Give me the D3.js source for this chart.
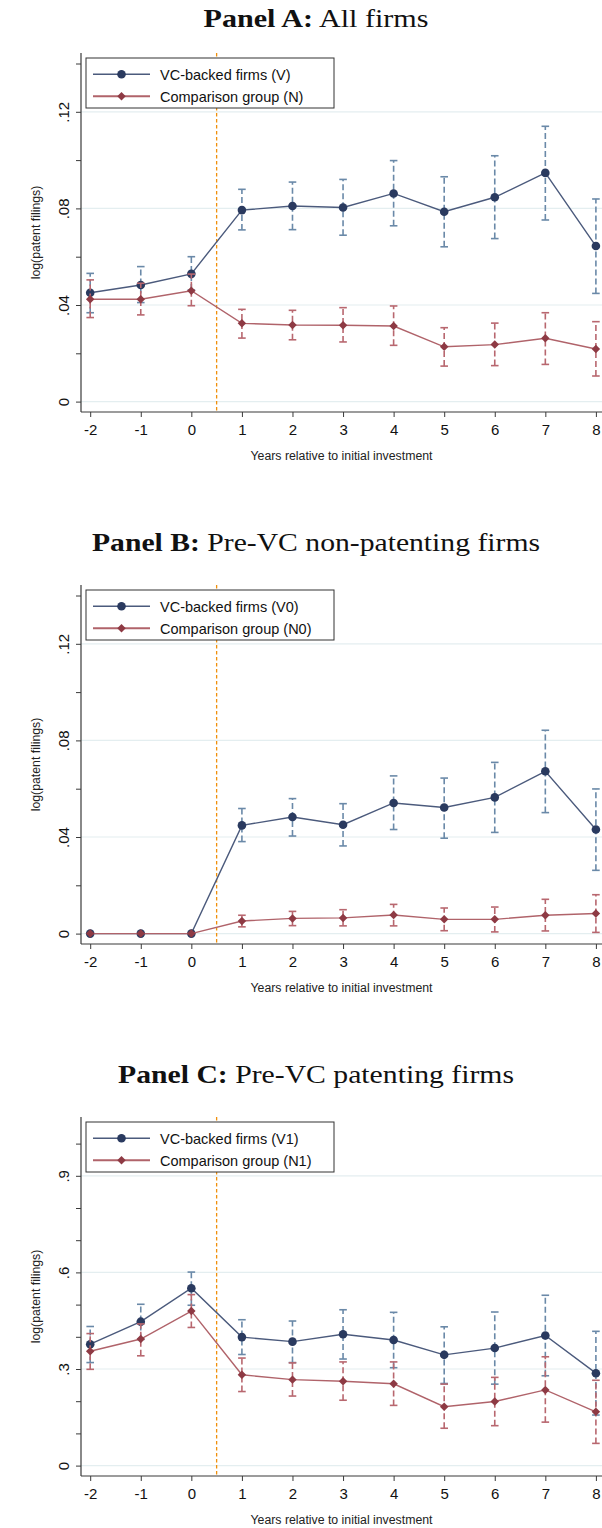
<!DOCTYPE html>
<html>
<head>
<meta charset="utf-8">
<script src="https://cdn.jsdelivr.net/npm/d3@7"></script>
<style>
  body { margin: 0; background: #fff; }
  svg { display: block; }
</style>
</head>
<body>
<script>
// Event time: years relative to the initial VC investment
const years = [-2, -1, 0, 1, 2, 3, 4, 5, 6, 7, 8];

// Panel A: all firms
const vcA      = [0.0451, 0.0483, 0.0529, 0.0793, 0.0810, 0.0804, 0.0862, 0.0786, 0.0846, 0.0947, 0.0644];
const vcA_lo   = [0.0368, 0.0410, 0.0462, 0.0711, 0.0712, 0.0689, 0.0728, 0.0641, 0.0675, 0.0752, 0.0448];
const vcA_hi   = [0.0531, 0.0559, 0.0600, 0.0879, 0.0909, 0.0920, 0.0998, 0.0931, 0.1018, 0.1140, 0.0839];
const cmpA     = [0.0424, 0.0424, 0.0459, 0.0324, 0.0317, 0.0316, 0.0313, 0.0227, 0.0236, 0.0262, 0.0218];
const cmpA_lo  = [0.0348, 0.0359, 0.0397, 0.0263, 0.0256, 0.0247, 0.0233, 0.0147, 0.0149, 0.0154, 0.0106];
const cmpA_hi  = [0.0504, 0.0490, 0.0528, 0.0382, 0.0378, 0.0389, 0.0396, 0.0306, 0.0325, 0.0368, 0.0331];

// Panel B: firms without patents before the VC round
const vcB      = [0, 0, 0, 0.0448, 0.0483, 0.0451, 0.0541, 0.0522, 0.0564, 0.0672, 0.0431];
const vcB_lo   = [0, 0, 0, 0.0381, 0.0404, 0.0363, 0.0431, 0.0395, 0.0419, 0.0501, 0.0262];
const vcB_hi   = [0, 0, 0, 0.0518, 0.0559, 0.0538, 0.0653, 0.0644, 0.0709, 0.0842, 0.0599];
const cmpB     = [0, 0, 0, 0.0052, 0.0063, 0.0065, 0.0077, 0.0059, 0.0059, 0.0076, 0.0083];
const cmpB_lo  = [0, 0, 0, 0.0028, 0.0033, 0.0032, 0.0032, 0.0012, 0.0007, 0.0011, 0.0005];
const cmpB_hi  = [0, 0, 0, 0.0076, 0.0092, 0.0099, 0.0121, 0.0106, 0.0110, 0.0142, 0.0161];

// Panel C: firms with patents before the VC round
const vcC      = [0.377, 0.447, 0.551, 0.399, 0.385, 0.408, 0.390, 0.344, 0.365, 0.404, 0.287];
const vcC_lo   = [0.320, 0.392, 0.498, 0.345, 0.320, 0.331, 0.304, 0.255, 0.253, 0.279, 0.157];
const vcC_hi   = [0.432, 0.501, 0.601, 0.453, 0.449, 0.484, 0.476, 0.431, 0.477, 0.529, 0.417];
const cmpC     = [0.355, 0.393, 0.480, 0.282, 0.267, 0.262, 0.254, 0.183, 0.199, 0.235, 0.167];
const cmpC_lo  = [0.299, 0.341, 0.429, 0.230, 0.216, 0.203, 0.187, 0.116, 0.124, 0.135, 0.069];
const cmpC_hi  = [0.410, 0.440, 0.531, 0.334, 0.319, 0.322, 0.322, 0.253, 0.274, 0.338, 0.265];

// Axis ticks and labels
const xTicks        = years;
const yMajorAB      = [0, 0.04, 0.08, 0.12];
const yMajorLabelAB = ["0", ".04", ".08", ".12"];
const yMinorAB      = [0.02, 0.06, 0.10, 0.14];
const yMajorC       = [0, 0.3, 0.6, 0.9];
const yMajorLabelC  = ["0", ".3", ".6", ".9"];
const yMinorC       = [0.1, 0.2, 0.4, 0.5, 0.7, 0.8, 1.0];

const panelTitles = [
  ["Panel A:", " All firms"],
  ["Panel B:", " Pre-VC non-patenting firms"],
  ["Panel C:", " Pre-VC patenting firms"]
];
const legendVC  = ["VC-backed firms (V)", "VC-backed firms (V0)", "VC-backed firms (V1)"];
const legendCmp = ["Comparison group (N)", "Comparison group (N0)", "Comparison group (N1)"];
const xTitle = "Years relative to initial investment";
const yTitle = "log(patent filings)";

// Colours
const C = {
  vcMark: "#2a3a5f", vcLine: "#4b5a7c", vcBar: "#6a89a8",
  cmpMark: "#8e3a44", cmpLine: "#b0636a", cmpBar: "#b8676f",
  axis: "#3a3a3a", grid: "#e4eef0", xline: "#f0900c"
};

const W = 602, H = 1528;
const svg = d3.select("body").append("svg").attr("width", W).attr("height", H);

const panels = [
  { off: 0,    titleY: 27,   vc: vcA, vcLo: vcA_lo, vcHi: vcA_hi, cm: cmpA, cmLo: cmpA_lo, cmHi: cmpA_hi,
    major: yMajorAB, majorLab: yMajorLabelAB, minor: yMinorAB, ref: 0.12, titleW: 225 },
  { off: 532,  titleY: 551,  vc: vcB, vcLo: vcB_lo, vcHi: vcB_hi, cm: cmpB, cmLo: cmpB_lo, cmHi: cmpB_hi,
    major: yMajorAB, majorLab: yMajorLabelAB, minor: yMinorAB, ref: 0.12, titleW: 448 },
  { off: 1064, titleY: 1083, vc: vcC, vcLo: vcC_lo, vcHi: vcC_hi, cm: cmpC, cmLo: cmpC_lo, cmHi: cmpC_hi,
    major: yMajorC, majorLab: yMajorLabelC, minor: yMinorC, ref: 0.9, titleW: 396 }
];

// Plot frame within each panel
const plotLeft = 81, plotRight = 602, plotTop = 53, zeroY = 401.6, axisY = 412;
const refY = 111.8; // pixel row of the reference tick (.12 / .9)

const x = d3.scaleLinear().domain([-2, 8]).range([90.2, 595.9]);

const diamond = d3.symbol().type(d3.symbolDiamond2 || d3.symbolDiamond).size(46);

panels.forEach((p, pi) => {
  const g = svg.append("g").attr("transform", `translate(0,${p.off})`);
  const y = d3.scaleLinear().domain([0, p.ref]).range([zeroY, refY]);

  // Title
  const t = svg.append("text")
    .attr("x", 316).attr("y", p.titleY)
    .attr("text-anchor", "middle")
    .attr("font-family", "'Liberation Serif', 'DejaVu Serif', serif")
    .attr("font-size", 26)
    .attr("fill", "#111")
    .attr("textLength", p.titleW)
    .attr("lengthAdjust", "spacingAndGlyphs");
  t.append("tspan").attr("font-weight", "bold").text(panelTitles[pi][0]);
  t.append("tspan").text(panelTitles[pi][1]);

  // Gridlines on labelled y values
  g.append("g").selectAll("line").data(p.major).join("line")
    .attr("x1", plotLeft).attr("x2", plotRight)
    .attr("y1", d => y(d)).attr("y2", d => y(d))
    .attr("stroke", C.grid).attr("stroke-width", 1.2);

  // Y axis
  const yAxis = d3.axisLeft(y)
    .tickValues(p.major.concat(p.minor))
    .tickSize(5)
    .tickFormat(d => { const i = p.major.indexOf(d); return i >= 0 ? p.majorLab[i] : ""; });
  const ya = g.append("g").attr("transform", `translate(${plotLeft},0)`).call(yAxis);
  ya.select(".domain").remove();
  ya.append("line").attr("x1", 0).attr("x2", 0).attr("y1", plotTop).attr("y2", axisY)
    .attr("stroke", C.axis).attr("stroke-width", 1.2);
  ya.selectAll(".tick line").attr("stroke", C.axis);
  ya.selectAll(".tick text")
    .attr("transform", "rotate(-90)")
    .attr("x", 0).attr("y", -12).attr("dy", 0)
    .attr("text-anchor", "middle")
    .attr("font-family", "'Liberation Sans', Arial, sans-serif")
    .attr("font-size", 15).attr("fill", "#111");

  // X axis
  const xAxis = d3.axisBottom(x).tickValues(xTicks).tickSize(5).tickFormat(d3.format("d"));
  const xa = g.append("g").attr("transform", `translate(0,${axisY})`).call(xAxis);
  xa.select(".domain").remove();
  xa.append("line").attr("x1", plotLeft).attr("x2", plotRight).attr("y1", 0).attr("y2", 0)
    .attr("stroke", C.axis).attr("stroke-width", 1.2);
  xa.selectAll(".tick line").attr("stroke", C.axis);
  xa.selectAll(".tick text")
    .attr("y", 23).attr("dy", 0)
    .attr("font-family", "'Liberation Sans', Arial, sans-serif")
    .attr("font-size", 15).attr("fill", "#111")
    .text(d => d < 0 ? "-" + Math.abs(d) : d);

  // Axis titles
  g.append("text")
    .attr("x", (plotLeft + plotRight) / 2).attr("y", 459.5)
    .attr("text-anchor", "middle")
    .attr("font-family", "'Liberation Sans', Arial, sans-serif")
    .attr("font-size", 12.3).attr("fill", "#222")
    .text(xTitle);
  g.append("text")
    .attr("transform", `translate(39.5,${(plotTop + axisY) / 2}) rotate(-90)`)
    .attr("text-anchor", "middle")
    .attr("font-family", "'Liberation Sans', Arial, sans-serif")
    .attr("font-size", 12.3).attr("fill", "#222")
    .text(yTitle);

  // Treatment marker between year 0 and year 1
  g.append("line")
    .attr("x1", x(0.5)).attr("x2", x(0.5))
    .attr("y1", plotTop).attr("y2", axisY)
    .attr("stroke", C.xline).attr("stroke-width", 1.3)
    .attr("stroke-dasharray", "3.5,2.5");

  const rows = (vals, lo, hi) => years.map((yr, i) => ({ yr, v: vals[i], lo: lo[i], hi: hi[i] }));
  const vcRows = rows(p.vc, p.vcLo, p.vcHi);
  const cmRows = rows(p.cm, p.cmLo, p.cmHi);

  function drawCaps(data, color) {
    const eg = g.append("g");
    const d2 = data.filter(d => d.hi > d.lo);
    eg.selectAll("line.bar").data(d2).join("line").attr("class", "bar")
      .attr("x1", d => x(d.yr)).attr("x2", d => x(d.yr))
      .attr("y1", d => y(d.lo)).attr("y2", d => y(d.hi))
      .attr("stroke", color).attr("stroke-width", 1.6)
      .attr("stroke-dasharray", "6,3");
    ["lo", "hi"].forEach(k => {
      eg.selectAll("line.cap" + k).data(d2).join("line").attr("class", "cap" + k)
        .attr("x1", d => x(d.yr) - 3.8).attr("x2", d => x(d.yr) + 3.8)
        .attr("y1", d => y(d[k])).attr("y2", d => y(d[k]))
        .attr("stroke", color).attr("stroke-width", 1.6);
    });
  }

  const line = d3.line().x(d => x(d.yr)).y(d => y(d.v));

  // VC-backed series
  drawCaps(vcRows, C.vcBar);
  g.append("path").datum(vcRows).attr("d", line)
    .attr("fill", "none").attr("stroke", C.vcLine).attr("stroke-width", 1.4);
  g.append("g").selectAll("circle").data(vcRows).join("circle")
    .attr("cx", d => x(d.yr)).attr("cy", d => y(d.v)).attr("r", 4.3)
    .attr("fill", C.vcMark);

  // Comparison series
  drawCaps(cmRows, C.cmpBar);
  g.append("path").datum(cmRows).attr("d", line)
    .attr("fill", "none").attr("stroke", C.cmpLine).attr("stroke-width", 1.4);
  g.append("g").selectAll("path.dm").data(cmRows).join("path").attr("class", "dm")
    .attr("d", diamond)
    .attr("transform", d => `translate(${x(d.yr)},${y(d.v)})`)
    .attr("fill", C.cmpMark);

  // Legend
  const lg = g.append("g");
  lg.append("rect").attr("x", 86).attr("y", 58).attr("width", 248).attr("height", 50)
    .attr("fill", "#fff").attr("stroke", "#333").attr("stroke-width", 1);
  const items = [
    { label: legendVC[pi], line: C.vcLine, mark: C.vcMark, kind: "circle", ry: 74.3 },
    { label: legendCmp[pi], line: C.cmpLine, mark: C.cmpMark, kind: "diamond", ry: 96.3 }
  ];
  items.forEach(it => {
    lg.append("line").attr("x1", 93).attr("x2", 150).attr("y1", it.ry).attr("y2", it.ry)
      .attr("stroke", it.line).attr("stroke-width", it.kind === "circle" ? 1.4 : 2);
    if (it.kind === "circle") {
      lg.append("circle").attr("cx", 121.5).attr("cy", it.ry).attr("r", 4.3).attr("fill", it.mark);
    } else {
      lg.append("path").attr("d", diamond).attr("transform", `translate(121.5,${it.ry})`).attr("fill", it.mark);
    }
    lg.append("text").attr("x", 160).attr("y", it.ry + 5.2)
      .attr("font-family", "'Liberation Sans', Arial, sans-serif")
      .attr("font-size", 14.5).attr("fill", "#111")
      .text(it.label);
  });
});
</script>
</body>
</html>
